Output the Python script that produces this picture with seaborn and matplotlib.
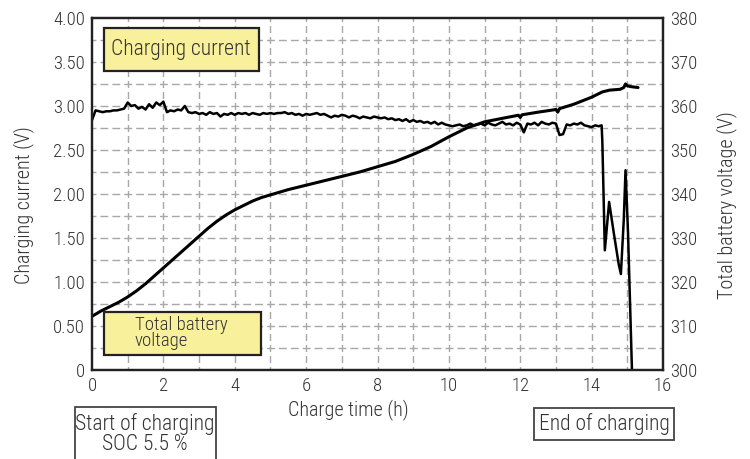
import numpy as np
import pandas as pd
import matplotlib
matplotlib.use("Agg")
import matplotlib.pyplot as plt
from matplotlib.patches import Rectangle
import seaborn as sns

sns.set_style("white")
plt.rcParams["font.family"] = ["Roboto Condensed", "Liberation Sans Narrow", "Roboto", "DejaVu Sans"]
plt.rcParams["font.weight"] = "light"

# Charging current (left axis), sampled every 0.1 h up to 14.2 h
current_steady = [
    2.84, 2.95, 2.94, 2.93, 2.94, 2.94, 2.95, 2.95, 2.96, 2.97,
    3.04, 3.00, 3.01, 2.97, 2.99, 2.96, 3.02, 2.98, 3.04, 3.01,
    3.05, 2.93, 2.95, 2.94, 2.96, 2.95, 3.00, 2.93, 2.92, 2.93,
    2.91, 2.92, 2.90, 2.93, 2.91, 2.92, 2.88, 2.91, 2.90, 2.92,
    2.90, 2.92, 2.91, 2.92, 2.90, 2.92, 2.91, 2.90, 2.92, 2.91,
    2.92, 2.91, 2.92, 2.92, 2.93, 2.91, 2.92, 2.90, 2.91, 2.89,
    2.91, 2.90, 2.91, 2.92, 2.90, 2.91, 2.89, 2.87, 2.89, 2.88,
    2.90, 2.89, 2.87, 2.89, 2.88, 2.86, 2.88, 2.87, 2.86, 2.88,
    2.87, 2.86, 2.87, 2.85, 2.86, 2.84, 2.85, 2.83, 2.85, 2.82,
    2.84, 2.82, 2.83, 2.81, 2.82, 2.80, 2.82, 2.79, 2.81, 2.79,
    2.78, 2.77, 2.78, 2.79, 2.77, 2.78, 2.80, 2.78, 2.79, 2.80,
    2.78, 2.81, 2.79, 2.78, 2.80, 2.82, 2.79, 2.80, 2.78, 2.81,
    2.79, 2.70, 2.80, 2.79, 2.81, 2.78, 2.82, 2.80, 2.79, 2.81,
    2.80, 2.67, 2.68, 2.79, 2.78, 2.80, 2.79, 2.81, 2.78, 2.77,
    2.76, 2.78, 2.77,
]
# End of charging: the current collapses and oscillates down to zero
current_tail_hours = [14.28, 14.30, 14.37, 14.49, 14.62, 14.76, 14.82, 14.90, 14.95, 15.02, 15.13]
current_tail = [2.78, 2.60, 1.36, 1.91, 1.56, 1.20, 1.09, 1.70, 2.27, 1.56, 0.0]

# Total battery voltage (right axis)
voltage_hours = [0.0, 0.25, 0.5, 0.75, 1.0, 1.25, 1.5, 1.75, 2.0, 2.25, 2.5, 2.75,
                 3.0, 3.25, 3.5, 3.75, 4.0, 4.25, 4.5, 4.75, 5.0, 5.5, 6.0, 6.5,
                 7.0, 7.5, 8.0, 8.5, 9.0, 9.5, 10.0, 10.5, 11.0, 11.5, 11.95, 12.0,
                 12.05, 12.5, 13.0, 13.05, 13.1, 13.5, 14.0, 14.3, 14.5, 14.8, 14.9,
                 14.95, 15.0, 15.1, 15.3]
voltage = [312.2, 313.4, 314.4, 315.4, 316.6, 318.0, 319.6, 321.4, 323.2, 325.0,
           326.8, 328.6, 330.4, 332.2, 333.8, 335.2, 336.4, 337.4, 338.4, 339.2,
           339.8, 341.0, 342.0, 343.0, 344.0, 345.0, 346.2, 347.4, 349.0, 350.8,
           353.0, 355.0, 356.4, 357.2, 357.9, 357.4, 358.0, 358.6, 359.2, 358.6,
           359.4, 360.4, 362.0, 363.2, 363.6, 363.8, 364.2, 365.0, 364.6, 364.4,
           364.2]

left_ticks = [0, 0.5, 1.0, 1.5, 2.0, 2.5, 3.0, 3.5, 4.0]
left_tick_labels = ["0", "0.50", "1.00", "1.50", "2.00", "2.50", "3.00", "3.50", "4.00"]
right_ticks = [300, 310, 320, 330, 340, 350, 360, 370, 380]
x_ticks = [0, 2, 4, 6, 8, 10, 12, 14, 16]

steady_hours = np.round(np.arange(len(current_steady)) * 0.1, 2)
current_df = pd.DataFrame({
    "hours": np.concatenate([steady_hours, current_tail_hours]),
    "current": np.concatenate([current_steady, current_tail]),
})
voltage_df = pd.DataFrame({"hours": voltage_hours, "voltage": voltage})

W, H = 750, 459
fig = plt.figure(figsize=(W / 100, H / 100), dpi=100)
ax = fig.add_axes([92 / W, 1 - 370 / H, (663 - 92) / W, (370 - 18) / H])
ax2 = ax.twinx()

text_color = "#333333"
px = 0.72  # points per pixel at 100 dpi
# dashes centred on the crossings so the grid shows small "+" marks
v_dash = (3.5 * px, (7 * px, 4 * px))
h_dash = (3.95 * px, (7.9 * px, 4.0 * px))
grid_color = "#a8a8a8"

ax.set_xlim(0, 16)
ax.set_ylim(0, 4)
ax2.set_ylim(300, 380)

for xv in range(1, 16):
    ax.axvline(xv, color=grid_color, lw=1.0, ls=v_dash, zorder=0)
for yv in np.arange(0.25, 4.0, 0.25):
    ax.axhline(yv, color=grid_color, lw=1.0, ls=h_dash, zorder=0)

sns.lineplot(data=current_df, x="hours", y="current", ax=ax, color="black",
             lw=1.8, estimator=None, sort=False)
sns.lineplot(data=voltage_df, x="hours", y="voltage", ax=ax2, color="black",
             lw=2.2, estimator=None, sort=False)

ax.set_xticks(x_ticks)
ax.set_yticks(left_ticks)
ax.set_yticklabels(left_tick_labels)
ax2.set_yticks(right_ticks)
for a in (ax, ax2):
    a.tick_params(length=0, labelsize=13.5, colors=text_color, pad=5)
    for s in a.spines.values():
        s.set_color("#222222")
        s.set_linewidth(1.6)

ax.set_xlabel("")
ax.set_ylabel("")
ax2.set_ylabel("")
fig.text(348 / W, 1 - 410 / H, "Charge time (h)", fontsize=14.5, color=text_color,
         ha="center", va="center")
fig.text(24 / W, 1 - 205 / H, "Charging current (V)", fontsize=14.5, color=text_color,
         ha="center", va="center", rotation=90)
fig.text(727 / W, 1 - 205 / H, "Total battery voltage (V)", fontsize=14.5, color=text_color,
         ha="center", va="center", rotation=90)

yellow = "#f8f09a"
# Series labels inside the plot
fig.patches.append(Rectangle((104 / W, 1 - 71 / H), 155 / W, 43 / H, transform=fig.transFigure,
                             facecolor=yellow, edgecolor="#222222", lw=1.6, zorder=5))
fig.text(111 / W, 1 - 50 / H, "Charging current", fontsize=15.5, color=text_color,
         va="center", ha="left", zorder=6)
fig.patches.append(Rectangle((104 / W, 1 - 355 / H), 157 / W, 43 / H, transform=fig.transFigure,
                             facecolor=yellow, edgecolor="#222222", lw=1.6, zorder=5))
fig.text(135 / W, 1 - 333 / H, "Total battery\nvoltage", fontsize=13.5, color=text_color,
         va="center", ha="left", linespacing=0.88, zorder=6)

# Start / end markers below the time axis
fig.patches.append(Rectangle((75 / W, -0.05), 141 / W, (H - 407) / H + 0.05, transform=fig.transFigure,
                             facecolor="white", edgecolor="#444444", lw=1.3, zorder=5))
fig.text(145 / W, 1 - 434 / H, "Start of charging\nSOC 5.5 %", fontsize=15.5, color=text_color,
         va="center", ha="center", linespacing=0.95, zorder=6)
fig.patches.append(Rectangle((534 / W, 1 - 440 / H), 140 / W, 32 / H, transform=fig.transFigure,
                             facecolor="white", edgecolor="#444444", lw=1.3, zorder=5))
fig.text(604 / W, 1 - 424 / H, "End of charging", fontsize=15.5, color=text_color,
         va="center", ha="center", zorder=6)

fig.savefig("out.png", dpi=100)
